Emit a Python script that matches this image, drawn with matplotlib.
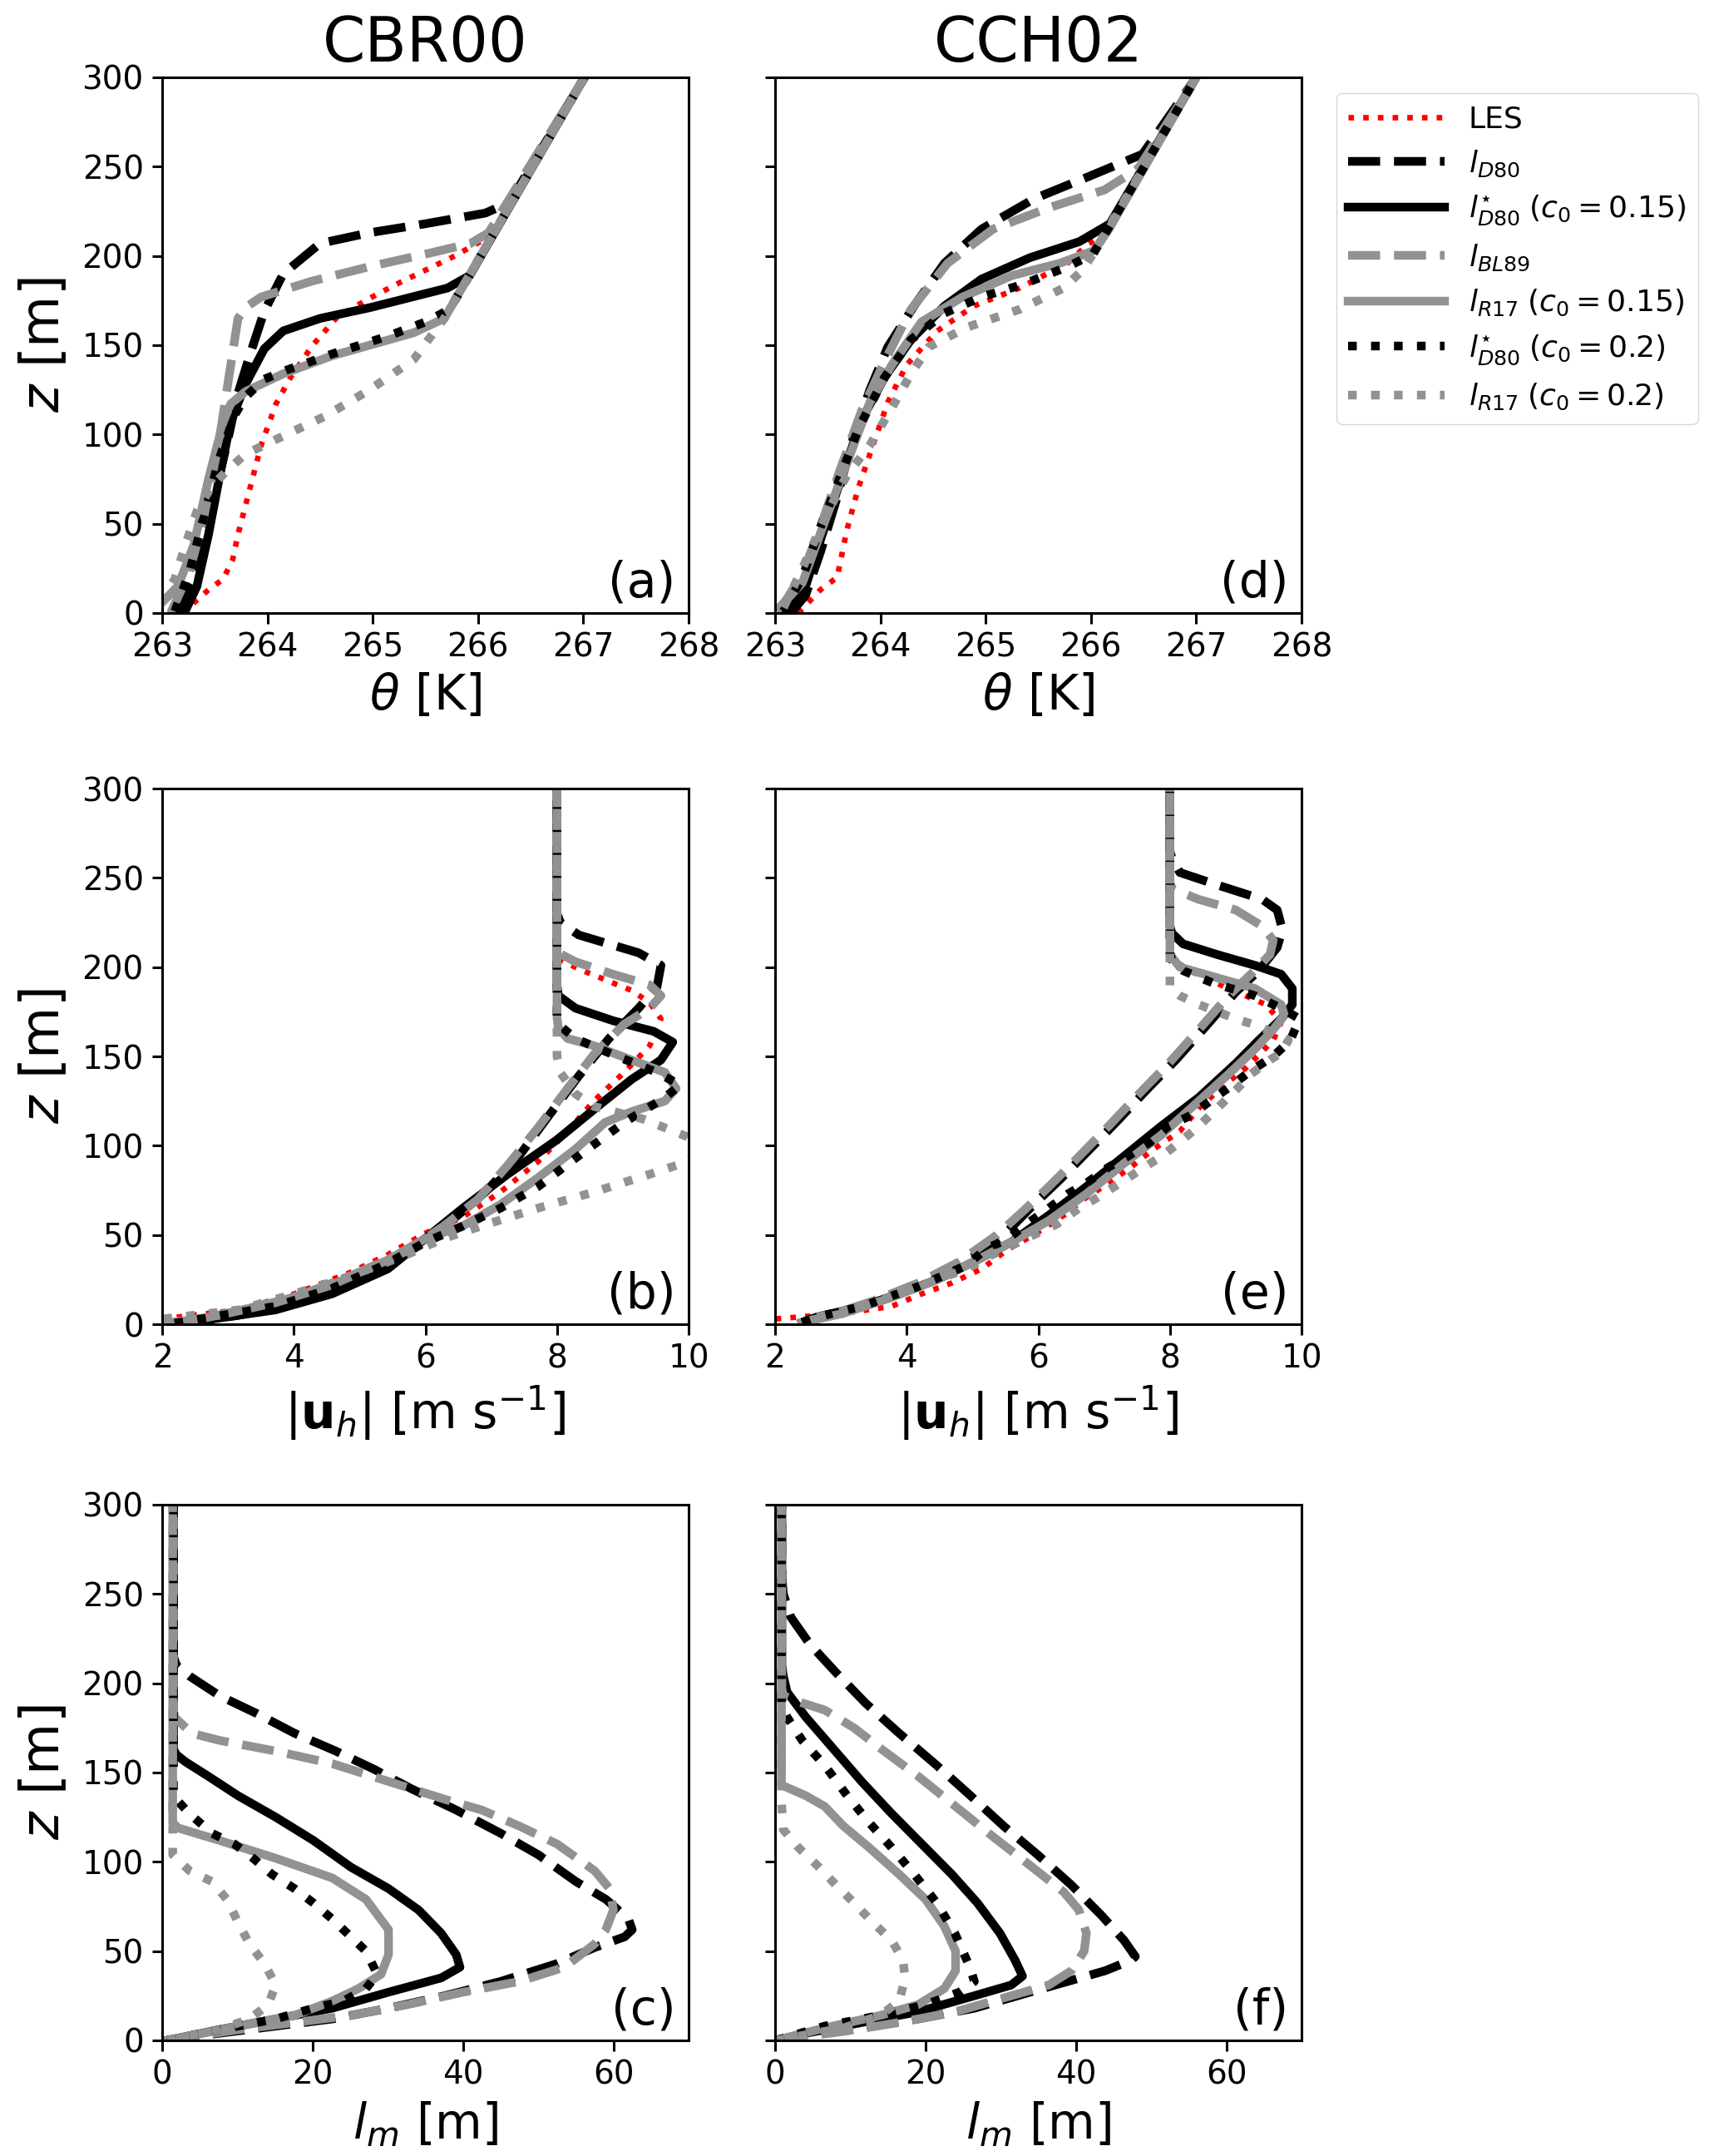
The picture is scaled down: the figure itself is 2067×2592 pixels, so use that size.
import numpy as np
import matplotlib
matplotlib.use("Agg")
import matplotlib.pyplot as plt
from matplotlib.lines import Line2D

# ---- data: (x, z) points per curve ----
# panel (a) CBR00 theta [K]
A_LES = [(263.19,0),(263.44,13),(263.58,19),(263.67,30),(263.72,44),(263.83,69),(263.94,94),(264.08,117),(264.22,132),(264.43,150),(264.65,165),(264.93,175),(265.22,184),(265.5,192),(265.78,200),(265.99,207),(266.12,211),(267.01,300)]
A_D80 = [(263.15,0),(263.3,19),(263.4,44),(263.51,69),(263.62,96),(263.72,123),(263.83,144),(263.97,169),(264.15,190),(264.5,207),(264.97,213),(265.5,218),(266.07,224),(266.3,230),(267.01,300)]
A_D80S15 = [(263.21,0),(263.33,15),(263.44,44),(263.54,75),(263.65,107),(263.79,128),(263.97,148),(264.15,158),(264.5,165),(264.97,171),(265.71,182),(265.92,189),(267.01,300)]
A_BL89 = [(263.08,0),(263.26,23),(263.4,55),(263.54,96),(263.62,127),(263.72,165),(263.79,171),(263.94,177),(264.43,186),(264.97,194),(265.5,201),(265.93,207),(266.1,213),(267.01,300)]
A_R17S15 = [(262.95,3),(263.15,15),(263.3,38),(263.44,75),(263.58,107),(263.65,117),(263.79,124),(264.15,134),(264.61,144),(265.39,157),(265.68,165),(267.01,300)]
A_D80S20 = [(263.12,1),(263.26,23),(263.4,55),(263.54,86),(263.69,111),(263.79,121),(263.97,131),(264.18,136),(264.61,145),(265.14,155),(265.5,163),(265.73,170),(267.01,300)]
A_R17S20 = [(262.98,6),(263.12,19),(263.22,38),(263.33,57),(263.47,71),(263.62,80),(263.79,89),(264.18,100),(264.54,110),(264.97,125),(265.39,142),(265.54,154),(265.68,165),(267.01,300)]

# panel (d) CCH02 theta [K]
D_LES = [(263.22,0),(263.43,13),(263.59,20),(263.68,46),(263.79,70),(263.93,94),(264.07,118),(264.25,139),(264.54,158),(264.89,172),(265.32,182),(265.78,196),(265.96,206),(266.1,211),(267.0,300)]
D_D80 = [(263.15,0),(263.29,10),(263.43,34),(263.58,63),(263.72,94),(263.9,125),(264.07,149),(264.32,172),(264.61,196),(264.96,215),(265.46,232),(265.96,244),(266.49,257),(267.0,300)]
D_D80S15 = [(263.1,0),(263.29,15),(263.47,48),(263.65,79),(263.82,108),(264.04,132),(264.29,153),(264.61,172),(264.96,187),(265.42,199),(265.89,208),(266.18,218),(267.0,300)]
D_BL89 = [(263.06,3),(263.26,22),(263.43,48),(263.61,79),(263.82,113),(264.04,141),(264.29,170),(264.64,196),(265.07,215),(265.6,227),(266.13,237),(266.45,249),(267.0,300)]
D_R17S15 = [(263.04,3),(263.26,17),(263.47,51),(263.65,79),(263.9,118),(264.11,139),(264.39,163),(264.78,177),(265.25,189),(265.71,196),(266.03,203),(266.17,215),(267.0,300)]
D_D80S20 = [(263.08,1),(263.26,20),(263.43,48),(263.61,75),(263.79,103),(264.04,132),(264.29,153),(264.61,168),(264.96,177),(265.35,184),(265.78,194),(266.02,201),(266.15,214),(267.0,300)]
D_R17S20 = [(263.08,3),(263.26,25),(263.47,53),(263.68,77),(263.9,94),(264.11,115),(264.29,134),(264.46,149),(264.82,160),(265.32,170),(265.74,182),(265.92,192),(266.05,204),(267.0,300)]

# panel (b) CBR00 |u_h| [m/s]
B_LES = [(2.0,3),(3.16,8),(4.01,17),(4.86,29),(5.43,39),(6.0,51),(6.57,60),(7.14,74),(7.71,91),(8.16,108),(8.56,125),(9.02,141),(9.41,156),(9.58,171),(9.41,180),(9.13,187),(8.79,192),(8.33,199),(8.0,205),(8.0,300)]
B_D80 = [(2.3,0.5),(3.16,5),(4.01,12),(4.86,24),(5.43,34),(6.0,48),(6.46,60),(6.91,74),(7.42,94),(7.88,117),(8.33,139),(8.79,160),(9.24,177),(9.52,189),(9.58,201),(9.24,208),(8.33,218),(8.05,225),(8.0,230),(8.0,300)]
B_D80S15 = [(2.13,0),(2.59,2),(3.72,8),(4.58,17),(5.43,31),(6.0,48),(6.57,65),(7.25,84),(7.99,103),(8.62,122),(9.13,137),(9.58,148),(9.76,158),(9.47,164),(8.85,170),(8.28,177),(8.02,184),(8.0,190),(8.0,300)]
B_BL89 = [(2.13,0.5),(2.87,5),(4.01,15),(4.86,27),(5.72,41),(6.28,55),(6.8,70),(7.25,89),(7.71,110),(8.16,132),(8.56,151),(9.02,168),(9.41,177),(9.58,184),(9.41,190),(8.85,196),(8.28,203),(8.02,208),(8.0,212),(8.0,300)]
B_R17S15 = [(2.02,0.5),(2.59,3),(3.72,12),(4.58,22),(5.43,36),(6.0,48),(6.57,55),(7.14,67),(7.71,82),(8.28,98),(8.73,113),(9.13,119),(9.64,125),(9.81,132),(9.64,141),(9.13,148),(8.56,156),(8.16,160),(8.02,166),(8.0,172),(8.0,300)]
B_D80S20 = [(2.19,0.5),(2.59,3),(3.72,10),(4.58,20),(5.43,34),(6.0,46),(6.57,55),(7.14,65),(7.71,77),(8.39,96),(9.02,113),(9.64,127),(9.87,134),(9.52,141),(8.85,151),(8.28,160),(8.05,167),(8.0,172),(8.0,300)]
B_R17S20 = [(2.02,3),(3.16,8),(4.01,17),(4.86,27),(5.72,39),(6.28,48),(6.85,55),(7.71,65),(8.56,74),(9.41,84),(9.98,91),(10.3,98),(9.98,105),(9.3,115),(8.56,122),(8.28,129),(8.05,141),(8.0,150),(8.0,300)]

# panel (e) CCH02 |u_h| [m/s]
E_LES = [(2.01,3),(3.03,6),(3.77,10),(4.23,17),(4.68,23),(5.14,31),(5.54,42),(5.93,50),(6.39,61),(6.73,71),(7.07,79),(7.41,88),(7.75,98),(8.15,108),(8.44,121),(8.83,134),(9.17,144),(9.57,159),(9.69,169),(9.46,179),(8.89,188),(8.3,198),(8.05,204),(8.0,208),(8.0,300)]
E_D80 = [(2.41,1),(2.64,4),(3.32,10),(3.89,17),(4.57,27),(5.02,38),(5.48,50),(5.93,67),(6.33,81),(6.73,96),(7.18,113),(7.64,131),(8.09,148),(8.55,167),(9.0,186),(9.35,198),(9.63,211),(9.71,221),(9.63,232),(9.4,238),(8.72,246),(8.15,253),(8.03,261),(8.0,265),(8.0,300)]
E_D80S15 = [(2.41,1),(2.64,4),(3.32,10),(3.89,17),(4.46,25),(5.02,35),(5.59,46),(6.16,61),(6.73,77),(7.3,94),(7.87,111),(8.44,127),(9.0,146),(9.35,159),(9.69,171),(9.86,179),(9.86,188),(9.69,196),(9.29,201),(8.72,207),(8.2,213),(8.03,219),(8.0,223),(8.0,300)]
E_BL89 = [(2.41,1),(2.75,4),(3.49,13),(4.17,23),(4.8,35),(5.37,50),(5.76,63),(6.16,77),(6.62,94),(7.07,111),(7.53,129),(7.98,146),(8.44,165),(8.89,184),(9.23,196),(9.52,207),(9.57,215),(9.4,223),(9.0,232),(8.43,238),(8.03,244),(8.0,248),(8.0,300)]
E_R17S15 = [(2.41,1),(3.03,6),(3.77,15),(4.46,25),(5.02,35),(5.59,46),(6.16,58),(6.73,73),(7.3,90),(7.87,106),(8.44,125),(8.89,140),(9.29,154),(9.57,165),(9.74,173),(9.69,179),(9.29,188),(8.72,194),(8.15,200),(8.0,207),(8.0,300)]
E_D80S20 = [(2.41,1),(2.64,4),(3.32,10),(4.17,21),(4.91,33),(5.2,42),(5.54,48),(5.82,56),(6.16,65),(6.45,73),(6.73,79),(7.07,88),(7.36,94),(7.7,102),(7.98,111),(8.32,117),(8.61,125),(8.95,134),(9.23,142),(9.57,150),(9.83,159),(9.97,171),(9.69,177),(9.29,184),(8.66,191),(8.2,198),(8.03,204),(8.0,208),(8.0,300)]
E_R17S20 = [(2.64,4),(3.32,10),(4.17,21),(4.91,31),(5.25,38),(5.59,44),(5.93,50),(6.28,56),(6.62,65),(6.9,71),(7.24,79),(7.53,86),(7.87,94),(8.15,102),(8.44,111),(8.72,121),(9.0,131),(9.23,140),(9.52,148),(9.69,152),(9.8,159),(9.69,161),(9.35,167),(9.0,171),(8.44,179),(8.15,184),(8.0,188),(8.0,300)]

# panel (c) CBR00 mixing length [m]
C_D80 = [(0.65,0),(7.6,4),(15.1,8),(22.6,12),(30.1,18),(37.6,25),(45.0,33),(52.5,43),(57.5,52),(61.5,58),(62.5,62),(62.0,68),(59.0,79),(55.0,89),(50.0,104),(45.0,116),(39.1,129),(33.1,141),(28.1,152),(23.1,162),(17.6,172),(12.6,183),(7.63,193),(3.64,204),(1.9,210),(1.5,215),(1.5,300)]
C_D80S15 = [(0.65,0),(7.6,6),(15.1,12),(22.6,18),(30.1,27),(37.1,35),(39.6,41),(39.1,48),(37.1,60),(34.1,73),(30.1,85),(25.1,97),(20.1,112),(15.1,125),(10.1,137),(6.1,148),(3.1,156),(1.9,160),(1.5,163),(1.5,300)]
C_BL89 = [(0.65,0),(10.1,6),(17.6,10),(25.1,14),(32.6,20),(40.0,27),(47.5,33),(53.5,41),(57.5,54),(59.0,62),(60.0,73),(59.5,85),(57.5,95),(52.5,110),(47.5,120),(42.5,129),(37.6,135),(30.1,145),(22.6,155),(15.1,162),(7.63,168),(3.9,172),(1.65,181),(1.5,186),(1.5,300)]
C_R17S15 = [(0.65,0),(10.1,8),(17.6,14),(22.6,22),(26.1,29),(29.1,37),(30.1,48),(30.1,62),(27.1,79),(22.6,91),(15.1,102),(7.6,112),(2.1,119),(1.4,122),(1.4,300)]
C_D80S20 = [(0.65,0),(7.6,6),(15.1,12),(20.1,18),(24.1,22),(27.1,29),(28.6,37),(27.1,50),(25.1,58),(22.6,68),(20.1,77),(17.6,85),(14.6,93),(12.1,102),(9.6,110),(6.6,116),(3.64,127),(1.65,136),(1.5,140),(1.5,300)]
C_R17S20 = [(0.65,0),(7.6,6),(11.6,12),(14.1,20),(15.1,31),(13.6,43),(11.6,54),(10.1,66),(8.6,79),(6.6,89),(3.64,95),(1.4,104),(1.4,300)]

# panel (f) CCH02 mixing length [m]
F_D80 = [(0.1,0),(4.1,3),(11.5,7),(19.0,12),(26.5,18),(33.9,27),(38.9,33),(43.9,39),(47.4,45),(47.9,47),(46.4,56),(43.4,70),(39.4,87),(34.9,104),(30.4,120),(26.0,137),(21.5,154),(16.5,172),(12.0,189),(8.1,206),(4.6,222),(2.1,237),(1.1,250),(0.9,260),(0.9,300)]
F_D80S15 = [(0.1,0),(4.1,4),(11.5,10),(19.0,16),(26.5,25),(31.4,31),(32.9,36),(31.9,45),(29.9,60),(26.9,77),(23.5,93),(19.5,110),(15.5,127),(11.5,145),(7.6,164),(4.1,181),(1.6,195),(1.1,204),(0.9,210),(0.9,300)]
F_BL89 = [(0.1,0),(9.1,5),(16.5,10),(24.0,16),(31.4,25),(36.4,31),(39.4,39),(41.1,50),(41.4,60),(40.4,73),(38.4,83),(33.9,98),(29.0,114),(24.0,131),(19.0,148),(14.5,162),(10.5,175),(6.6,185),(3.6,189),(1.1,193),(0.9,197),(0.9,300)]
F_R17S15 = [(0.1,0),(6.6,7),(14.0,14),(19.0,20),(22.5,29),(24.0,39),(24.0,50),(22.5,64),(20.0,79),(16.5,93),(12.5,108),(9.1,120),(6.6,131),(4.1,137),(0.85,143),(0.85,300)]
F_D80S20 = [(0.1,0),(6.6,8),(14.0,14),(20.0,20),(24.5,27),(26.5,33),(25.9,41),(23.9,60),(21.5,77),(18.5,93),(15.5,108),(12.5,122),(9.6,137),(6.6,154),(3.6,168),(1.6,181),(0.85,189),(0.85,300)]
F_R17S20 = [(0.1,0),(9.1,7),(14.0,14),(16.5,22),(17.3,35),(17.0,45),(15.5,56),(13.0,66),(10.5,77),(8.1,87),(5.6,98),(3.1,108),(1.1,118),(0.85,133),(0.85,300)]

labels = [r'LES', r'$l_{D80}$', r'$l^{\star}_{D80}\;(c_0 = 0.15)$', r'$l_{BL89}$',
          r'$l_{R17}\;(c_0 = 0.15)$', r'$l^{\star}_{D80}\;(c_0 = 0.2)$', r'$l_{R17}\;(c_0 = 0.2)$']
cases = ['CBR00', 'CCH02']

GRAY = '#929292'
LW = 7.5
styles = [dict(color='red', ls=':', lw=4.8),
          dict(color='black', ls='--', lw=LW),
          dict(color='black', ls='-', lw=LW),
          dict(color=GRAY, ls='--', lw=LW),
          dict(color=GRAY, ls='-', lw=LW),
          dict(color='black', ls=':', lw=LW),
          dict(color=GRAY, ls=':', lw=LW)]

panels = [
    ('(a)', [A_LES, A_D80, A_D80S15, A_BL89, A_R17S15, A_D80S20, A_R17S20]),
    ('(d)', [D_LES, D_D80, D_D80S15, D_BL89, D_R17S15, D_D80S20, D_R17S20]),
    ('(b)', [B_LES, B_D80, B_D80S15, B_BL89, B_R17S15, B_D80S20, B_R17S20]),
    ('(e)', [E_LES, E_D80, E_D80S15, E_BL89, E_R17S15, E_D80S20, E_R17S20]),
    ('(c)', [None, C_D80, C_D80S15, C_BL89, C_R17S15, C_D80S20, C_R17S20]),
    ('(f)', [None, F_D80, F_D80S15, F_BL89, F_R17S15, F_D80S20, F_R17S20]),
]

xlabels = [r'$\theta$ [K]', r'$|\mathbf{u}_h|$ [m s$^{-1}$]', r'$l_m$ [m]']
xlims = [(263, 268), (2, 10), (0, 70)]
xticks = [np.arange(263, 269, 1), np.arange(2, 11, 2), np.arange(0, 61, 20)]

fig = plt.figure(figsize=(20.67, 25.92), dpi=100)
W, H = 2067.0, 2592.0
lefts = [195, 932]
tops = [93, 948, 1809]
aw, ah = 633, 644

for k, (tag, curves) in enumerate(panels):
    row, col = k // 2, k % 2
    ax = fig.add_axes([lefts[col] / W, 1 - (tops[row] + ah) / H, aw / W, ah / H])
    for pts, st in zip(curves, styles):
        if pts is None:
            continue
        arr = np.array(pts)
        ax.plot(arr[:, 0], arr[:, 1], dash_capstyle='butt', **st)
    ax.set_xlim(*xlims[row])
    ax.set_ylim(0, 300)
    ax.set_xticks(xticks[row])
    ax.set_yticks(np.arange(0, 301, 50))
    ax.tick_params(labelsize=28, length=9, width=2.2, pad=7)
    for s in ax.spines.values():
        s.set_linewidth(2.2)
    ax.set_xlabel(xlabels[row], fontsize=42, labelpad=8)
    if col == 0:
        ax.set_ylabel(r'$z$ [m]', fontsize=46, labelpad=10)
    else:
        ax.set_yticklabels([])
    if row == 0:
        ax.set_title(cases[col], fontsize=53, pad=14)
    ax.text(0.975, 0.012, tag, transform=ax.transAxes, ha='right', va='bottom', fontsize=42)

handles = [Line2D([], [], **st) for st in styles]
fig.legend(handles, labels, loc='upper left', bbox_to_anchor=(1607 / W, 1 - 112 / H),
           borderaxespad=0, fontsize=26, handlelength=3.2)

fig.savefig('out.png', dpi=100)
